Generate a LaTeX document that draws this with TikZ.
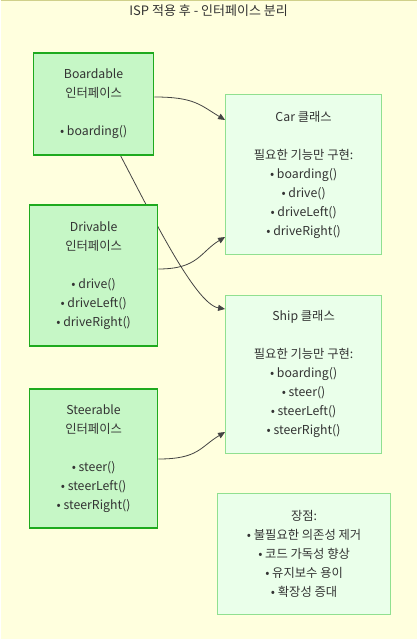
\documentclass[tikz,border=0pt]{standalone}
\usepackage{fontspec}
\setmainfont{Noto Sans CJK KR}
\usetikzlibrary{arrows.meta}
\definecolor{bg}{HTML}{FFFFDE}
\definecolor{topline}{HTML}{D0D08A}
\definecolor{ifill}{HTML}{C6F7C6}
\definecolor{idraw}{HTML}{1EAA1E}
\definecolor{cfill}{HTML}{EAFFEA}
\definecolor{cdraw}{HTML}{90E090}
\definecolor{txt}{HTML}{333333}
\definecolor{edge}{HTML}{444444}
\pgfdeclarelayer{edges}
\pgfsetlayers{edges,main}
\tikzset{
  px/.style={x=1pt,y=-1pt},
  iface/.style={draw=idraw,fill=ifill,line width=1.6pt,align=center,text=txt,font=\fontsize{12.3}{19}\selectfont,inner sep=0pt},
  cls/.style={draw=cdraw,fill=cfill,line width=1pt,align=center,text=txt,font=\fontsize{12.3}{19}\selectfont,inner sep=0pt},
  conn/.style={draw=edge,line width=0.8pt,-{Triangle[length=7pt,width=6pt]}},
}
\begin{document}
\begin{tikzpicture}[px]
\begin{pgfonlayer}{edges}
\fill[bg] (0,0) rectangle (416,639);
\draw[topline,line width=1.2pt] (0,0.6) -- (416,0.6);
\end{pgfonlayer}
\useasboundingbox (0,0) rectangle (416,639);
\node[text=txt,font=\fontsize{13}{15}\selectfont] (title) at (208,11) {ISP 적용 후 - 인터페이스 분리};
\node[iface,minimum width=120pt,minimum height=102pt] (B) at (93,104) {Boardable\\인터페이스\\[19pt]• boarding()};
\node[iface,minimum width=128pt,minimum height=141pt] (D) at (93,275.5) {Drivable\\인터페이스\\[19pt]• drive()\\• driveLeft()\\• driveRight()};
\node[iface,minimum width=128pt,minimum height=139pt] (S) at (93,458.5) {Steerable\\인터페이스\\[19pt]• steer()\\• steerLeft()\\• steerRight()};
\node[cls,minimum width=156pt,minimum height=159pt] (C) at (303,174.5) {Car 클래스\\[19pt]필요한 기능만 구현:\\• boarding()\\• drive()\\• driveLeft()\\• driveRight()};
\node[cls,minimum width=156pt,minimum height=158pt] (H) at (303,374) {Ship 클래스\\[19pt]필요한 기능만 구현:\\• boarding()\\• steer()\\• steerLeft()\\• steerRight()};
\node[cls,minimum width=173pt,minimum height=121pt] (A) at (303.5,553.5) {장점:\\• 불필요한 의존성 제거\\• 코드 가독성 향상\\• 유지보수 용이\\• 확장성 증대};
\begin{pgfonlayer}{edges}
\draw[conn] ([yshift=7pt]B.east) .. controls ++(40,0) and ++(-25,-15) .. ([yshift=54.5pt]C.west);
\draw[conn] ([xshift=27pt]B.south) .. controls ++(30,57) and ++(-30,-5) .. ([yshift=65pt]H.west);
\draw[conn] ([yshift=6.5pt]D.east) .. controls ++(40,0) and ++(-25,15) .. ([yshift=-62.5pt]C.west);
\draw[conn] ([yshift=-0.5pt]S.east) .. controls ++(40,0) and ++(-25,15) .. ([yshift=-58pt]H.west);
\end{pgfonlayer}
\end{tikzpicture}
\end{document}
